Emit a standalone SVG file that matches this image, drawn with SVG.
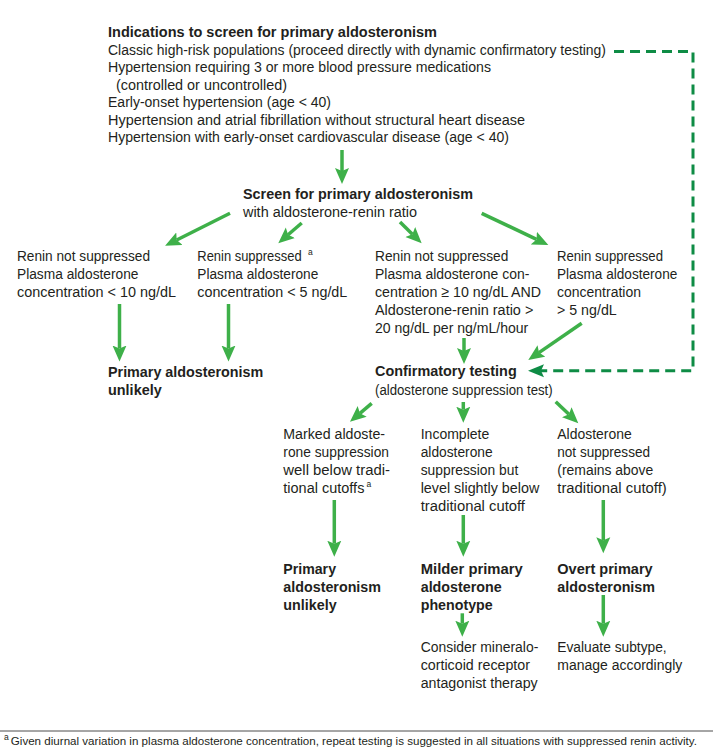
<svg xmlns="http://www.w3.org/2000/svg" width="713" height="754" viewBox="0 0 713 754">
<style>
text{font-family:"Liberation Sans Narrow","Liberation Sans",Arial,sans-serif;font-size:15.5px;fill:#231f20}
text.ls{font-family:"Liberation Sans",Arial,sans-serif}
.b{font-weight:bold}
.sup{font-size:8.5px}
.foot{font-size:11.5px}
.arr{stroke:#3eb049;stroke-width:3.5;fill:none;marker-end:url(#ah)}
.dash{stroke:#0e8c45;stroke-width:3;fill:none;stroke-dasharray:10,6;marker-end:url(#ahd)}
</style>
<defs>
<marker id="ah" markerUnits="userSpaceOnUse" markerWidth="17" markerHeight="15" refX="3" refY="0" orient="auto" viewBox="0 -7.5 17 15">
<path d="M0,-7 L16,0 L0,7 L3,0 z" fill="#3eb049"/>
</marker>
<marker id="ahd" markerUnits="userSpaceOnUse" markerWidth="17" markerHeight="15" refX="3" refY="0" orient="auto" viewBox="0 -7.5 17 15">
<path d="M0,-6.5 L16,0 L0,6.5 L3,0 z" fill="#0e8c45"/>
</marker>
</defs>
<rect width="713" height="754" fill="#ffffff"/>

<g id="indications">
<text class="b" x="108" y="37" textLength="329" lengthAdjust="spacingAndGlyphs">Indications to screen for primary aldosteronism</text>
<text x="108" y="54.5" textLength="498" lengthAdjust="spacingAndGlyphs">Classic high-risk populations (proceed directly with dynamic confirmatory testing)</text>
<text x="108" y="72" textLength="383" lengthAdjust="spacingAndGlyphs">Hypertension requiring 3 or more blood pressure medications</text>
<text x="116" y="89.5" textLength="171" lengthAdjust="spacingAndGlyphs">(controlled or uncontrolled)</text>
<text x="108" y="107" textLength="223" lengthAdjust="spacingAndGlyphs">Early-onset hypertension (age &lt; 40)</text>
<text x="108" y="124.5" textLength="417" lengthAdjust="spacingAndGlyphs">Hypertension and atrial fibrillation without structural heart disease</text>
<text x="108" y="142" textLength="401" lengthAdjust="spacingAndGlyphs">Hypertension with early-onset cardiovascular disease (age &lt; 40)</text>
</g>

<g id="screen">
<text class="b" x="243" y="199" textLength="230" lengthAdjust="spacingAndGlyphs">Screen for primary aldosteronism</text>
<text x="243" y="216.7" textLength="174" lengthAdjust="spacingAndGlyphs">with aldosterone-renin ratio</text>
</g>

<g id="renin-not-suppressed-low">
<text x="17" y="261" textLength="133" lengthAdjust="spacingAndGlyphs">Renin not suppressed</text>
<text x="17" y="279" textLength="121.5" lengthAdjust="spacingAndGlyphs">Plasma aldosterone</text>
<text x="17" y="297" textLength="159" lengthAdjust="spacingAndGlyphs">concentration &lt; 10 ng/dL</text>
</g>

<g id="renin-suppressed-low">
<text class="ls" transform="translate(197.3,261) scale(0.836,1)">Renin suppressed</text>
<text class="sup" x="308" y="254.5">a</text>
<text x="197.3" y="279" textLength="121" lengthAdjust="spacingAndGlyphs">Plasma aldosterone</text>
<text x="197.3" y="297" textLength="150" lengthAdjust="spacingAndGlyphs">concentration &lt; 5 ng/dL</text>
</g>

<g id="renin-not-suppressed-high">
<text x="375" y="261" textLength="133.3" lengthAdjust="spacingAndGlyphs">Renin not suppressed</text>
<text x="375" y="279" textLength="154.3" lengthAdjust="spacingAndGlyphs">Plasma aldosterone con-</text>
<text x="375" y="297" textLength="166" lengthAdjust="spacingAndGlyphs">centration ≥ 10 ng/dL AND</text>
<text x="375" y="315" textLength="158.3" lengthAdjust="spacingAndGlyphs">Aldosterone-renin ratio &gt;</text>
<text x="375" y="333" textLength="153.3" lengthAdjust="spacingAndGlyphs">20 ng/dL per ng/mL/hour</text>
</g>

<g id="renin-suppressed-high">
<text x="557" y="261" textLength="106" lengthAdjust="spacingAndGlyphs">Renin suppressed</text>
<text x="557" y="279" textLength="120.3" lengthAdjust="spacingAndGlyphs">Plasma aldosterone</text>
<text x="557" y="297" textLength="84" lengthAdjust="spacingAndGlyphs">concentration</text>
<text x="557" y="315" textLength="59.7" lengthAdjust="spacingAndGlyphs">&gt; 5 ng/dL</text>
</g>

<g id="unlikely-1">
<text class="b" x="108" y="377" textLength="155.3" lengthAdjust="spacingAndGlyphs">Primary aldosteronism</text>
<text class="b" x="108" y="395" textLength="53.7" lengthAdjust="spacingAndGlyphs">unlikely</text>
</g>

<g id="confirmatory">
<text class="b" x="375" y="376" textLength="141.7" lengthAdjust="spacingAndGlyphs">Confirmatory testing</text>
<text x="375" y="395" textLength="177.7" lengthAdjust="spacingAndGlyphs">(aldosterone suppression test)</text>
</g>

<g id="marked-suppression">
<text x="283.3" y="438.5" textLength="101.7" lengthAdjust="spacingAndGlyphs">Marked aldoste-</text>
<text x="283.3" y="456.5" textLength="105.7" lengthAdjust="spacingAndGlyphs">rone suppression</text>
<text x="283.3" y="474.5" textLength="106.7" lengthAdjust="spacingAndGlyphs">well below tradi-</text>
<text class="ls" transform="translate(283.3,492.5) scale(0.935,1)">tional cutoffs</text>
<text class="sup" x="366.5" y="486.5">a</text>
</g>

<g id="incomplete-suppression">
<text x="420.7" y="438.5" textLength="68.6" lengthAdjust="spacingAndGlyphs">Incomplete</text>
<text x="420.7" y="456.5" textLength="72" lengthAdjust="spacingAndGlyphs">aldosterone</text>
<text x="420.7" y="474.5" textLength="97.6" lengthAdjust="spacingAndGlyphs">suppression but</text>
<text x="420.7" y="492.5" textLength="118.6" lengthAdjust="spacingAndGlyphs">level slightly below</text>
<text x="420.7" y="510.5" textLength="104.3" lengthAdjust="spacingAndGlyphs">traditional cutoff</text>
</g>

<g id="not-suppressed">
<text x="557.3" y="438.5" textLength="74.4" lengthAdjust="spacingAndGlyphs">Aldosterone</text>
<text x="557.3" y="456.5" textLength="92.7" lengthAdjust="spacingAndGlyphs">not suppressed</text>
<text x="557.3" y="474.5" textLength="96" lengthAdjust="spacingAndGlyphs">(remains above</text>
<text x="557.3" y="492.5" textLength="109.4" lengthAdjust="spacingAndGlyphs">traditional cutoff)</text>
</g>

<g id="unlikely-2">
<text class="b" x="283.3" y="574" textLength="52.7" lengthAdjust="spacingAndGlyphs">Primary</text>
<text class="b" x="283.3" y="592" textLength="97.7" lengthAdjust="spacingAndGlyphs">aldosteronism</text>
<text class="b" x="283.3" y="610" textLength="53.4" lengthAdjust="spacingAndGlyphs">unlikely</text>
</g>

<g id="milder">
<text class="b" x="420.7" y="574" textLength="102" lengthAdjust="spacingAndGlyphs">Milder primary</text>
<text class="b" x="420.7" y="592" textLength="81" lengthAdjust="spacingAndGlyphs">aldosterone</text>
<text class="b" x="420.7" y="610" textLength="72" lengthAdjust="spacingAndGlyphs">phenotype</text>
</g>

<g id="overt">
<text class="b" x="557.3" y="574" textLength="95.4" lengthAdjust="spacingAndGlyphs">Overt primary</text>
<text class="b" x="557.3" y="592" textLength="97.7" lengthAdjust="spacingAndGlyphs">aldosteronism</text>
</g>

<g id="mra-therapy">
<text x="420.7" y="651.5" textLength="117.6" lengthAdjust="spacingAndGlyphs">Consider mineralo-</text>
<text x="420.7" y="669.5" textLength="109.3" lengthAdjust="spacingAndGlyphs">corticoid receptor</text>
<text x="420.7" y="687.5" textLength="117" lengthAdjust="spacingAndGlyphs">antagonist therapy</text>
</g>

<g id="evaluate-subtype">
<text x="557.3" y="651.5" textLength="109.4" lengthAdjust="spacingAndGlyphs">Evaluate subtype,</text>
<text x="557.3" y="669.5" textLength="125" lengthAdjust="spacingAndGlyphs">manage accordingly</text>
</g>

<g id="connectors">
<path class="arr" d="M342,150 V171"/>
<path class="arr" d="M230,213.3 L176.7,240"/>
<path class="arr" d="M301.7,223 L288.1,234.8"/>
<path class="arr" d="M400,222 L412.4,234.2"/>
<path class="arr" d="M481.7,213.3 L536.6,239.4"/>
<path class="arr" d="M119.5,304 V348.5"/>
<path class="arr" d="M228.5,304 V348.5"/>
<path class="arr" d="M464,338 V351"/>
<path class="arr" d="M581.7,323.3 L539,352.6"/>
<path class="arr" d="M371.7,403.3 L359.9,413.3"/>
<path class="arr" d="M463.3,402 V409.7"/>
<path class="arr" d="M555.7,401.7 L568.9,414.3"/>
<path class="arr" d="M334.3,500 V543.7"/>
<path class="arr" d="M463.3,515 V543.7"/>
<path class="arr" d="M603.3,500 V540.3"/>
<path class="arr" d="M462.3,613.3 V623.7"/>
<path class="arr" d="M603.3,595 V623.7"/>
<path class="dash" d="M614,51.5 H693 V370.7 H541"/>
</g>

<g id="footnote">
<line x1="0" y1="731" x2="713" y2="731" stroke="#4d4d4d" stroke-width="1"/>
<text class="foot" x="4" y="744.5" textLength="693" lengthAdjust="spacingAndGlyphs"><tspan class="sup" dy="-5">a</tspan><tspan dx="2" dy="5">Given diurnal variation in plasma aldosterone concentration, repeat testing is suggested in all situations with suppressed renin activity.</tspan></text>
</g>
</svg>
